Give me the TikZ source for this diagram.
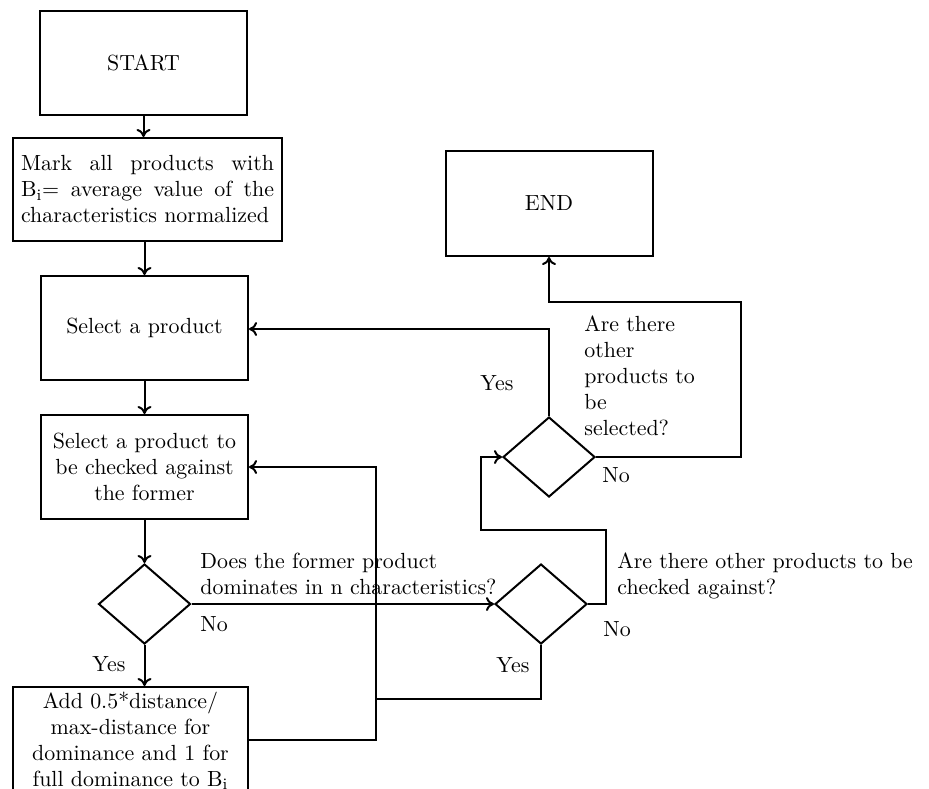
\documentclass[tikz,border=0pt]{standalone}
\usetikzlibrary{shapes.geometric,arrows.meta}
\begin{document}
\begin{tikzpicture}[x=0.5pt,y=-0.5pt,
  every node/.style={font=\fontsize{10.95}{13}\selectfont},
  box/.style={draw,line width=1pt,rectangle,inner sep=0pt,align=center},
  dec/.style={draw,line width=1pt,diamond,inner sep=0pt,minimum width=46pt,minimum height=40pt},
  lab/.style={inner sep=0pt,anchor=base west,align=left},
  conn/.style={line width=1pt},
  arr/.style={conn,-{To[length=4pt,width=7pt]}}]
\useasboundingbox (0,0) rectangle (929,788);
\node[box,minimum width=103.5pt,minimum height=52pt] (start) at (143.5,63) {START};
\node[box,minimum width=134.5pt,minimum height=51.5pt] (mark) at (147.5,189.5)
  {\makebox[126.5pt][s]{Mark all products with}\\\makebox[126.5pt][s]{B\textsubscript{i}= average value of the}\\\makebox[126.5pt][l]{characteristics normalized}};
\node[box,minimum width=103.5pt,minimum height=52pt] (sel) at (144.5,328) {Select a product};
\node[box,minimum width=103.5pt,minimum height=52pt] (chk) at (144.5,467) {Select a product to\\be checked against\\the former};
\node[dec] (d1) at (144.5,604) {};
\node[box,minimum width=117.5pt,minimum height=54pt] (add) at (130.5,741) {Add 0.5*distance/\\max-distance for\\dominance and 1 for\\full dominance to B\textsubscript{i}};
\node[dec] (d2) at (541,604) {};
\node[dec] (d3) at (549,457) {};
\node[box,minimum width=103.5pt,minimum height=52.5pt] (end) at (549,203.5) {END};

\coordinate (j1) at (376,740);
\coordinate (j2) at (376,467);
\coordinate (j3) at (541,699);
\coordinate (j4) at (376,699);
\coordinate (k1) at (606,604);
\coordinate (k2) at (606,530);
\coordinate (k3) at (481,530);
\coordinate (k4) at (481,457);
\coordinate (m1) at (549,329);
\coordinate (n1) at (741,457);
\coordinate (n2) at (741,302);
\coordinate (n3) at (549,302);

\draw[arr] (start.south) -- (start.south |- mark.north);
\draw[arr] (mark.south -| sel.north) -- (sel.north);
\draw[arr] (sel.south) -- (chk.north);
\draw[arr] (chk.south) -- (d1.north);
\draw[arr] (d1.east) -- (d2.west);
\draw[arr] (d1.south) -- (d1.south |- add.north);
\draw[arr] (add.east |- j1) -- (j1) -- (j2) -- (chk.east);
\draw[conn] (d2.south) -- (j3) -- (j4);
\draw[arr] (d2.east) -- (k1) -- (k2) -- (k3) -- (k4) -- (d3.west);
\draw[arr] (d3.north) -- (m1) -- (sel.east |- m1);
\draw[arr] (d3.east) -- (n1) -- (n2) -- (n3) -- (end.south);

\node[lab] (t1) at (200,594) {Does the former product\\dominates in n characteristics?};
\node[lab] (t2) at (200,631) {No};
\node[lab] (t3) at (92,671) {Yes};
\node[lab] (t4) at (617,594) {Are there other products to be\\checked against?};
\node[lab] (t5) at (603,636) {No};
\node[lab] (t6) at (496,672) {Yes};
\node[lab] (t7) at (584,435) {Are there\\other\\products to\\be\\selected?};
\node[lab] (t8) at (480,390) {Yes};
\node[lab] (t9) at (602,482) {No};
\end{tikzpicture}
\end{document}
